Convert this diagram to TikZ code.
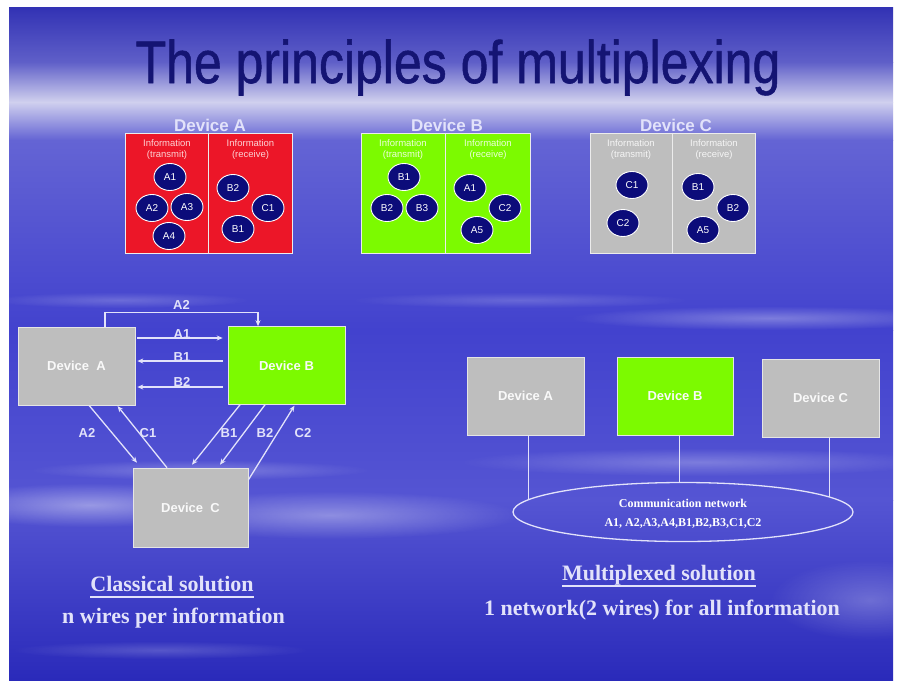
\documentclass[tikz,border=0pt]{standalone}
\usepackage{fontspec}
\setmainfont{Liberation Serif}
\newfontfamily\sansf{Liberation Sans}
\newfontfamily\titlef[FakeBold=1]{Liberation Sans}
\usetikzlibrary{arrows.meta,shapes.geometric,fadings}

\tikzfading[name=softglow, inner color=transparent!0, outer color=transparent!100]

\definecolor{bgA}{RGB}{50,50,180}
\definecolor{bgB}{RGB}{95,95,200}
\definecolor{bgC}{RGB}{208,208,238}
\definecolor{bgD}{RGB}{100,100,212}
\definecolor{bgE}{RGB}{66,66,206}
\definecolor{bgF}{RGB}{42,42,186}
\definecolor{titleblue}{RGB}{20,20,115}
\definecolor{lav}{RGB}{226,226,250}
\definecolor{devred}{RGB}{236,22,40}
\definecolor{devgreen}{RGB}{124,250,0}
\definecolor{devgrey}{RGB}{190,190,190}
\definecolor{dotnavy}{RGB}{12,12,122}

\tikzset{
  hdr/.style={font=\sansf\bfseries\fontsize{17}{20}\selectfont, text=lav, anchor=base},
  infobox/.style={draw=white!85!gray, line width=0.8pt, minimum width=167, minimum height=120, inner sep=0},
  infotxt/.style={font=\sansf\fontsize{9.5}{11}\selectfont, text=white, opacity=0.85, align=center, inner sep=0},
  dot/.style={ellipse, fill=dotnavy, draw=white, line width=0.9pt, minimum width=32, minimum height=27, inner sep=0,
    font=\sansf\fontsize{10}{12}\selectfont, text=white},
  devbox/.style={minimum width=117, minimum height=78, inner sep=0, draw=white!80!gray, line width=0.6pt,
    font=\sansf\bfseries\fontsize{13}{15}\selectfont, text=white!95!gray},
  wire/.style={draw=lav, line width=1.3pt},
  arr/.style={wire, -{Stealth[length=6pt,width=5pt]}},
  wlbl/.style={font=\sansf\bfseries\fontsize{13}{15}\selectfont, text=lav, inner sep=0},
  captxt/.style={font=\bfseries\fontsize{22}{26}\selectfont, text=lav, anchor=base, inner sep=0},
  ul/.style={draw=lav, line width=1.1pt},
  nettxt/.style={font=\bfseries\fontsize{12}{14}\selectfont, text=white, inner sep=0},
  haze/.style={fill=white, path fading=softglow}
}

\begin{document}
\begin{tikzpicture}[x=1pt,y=-1pt]
\useasboundingbox (0,0) rectangle (897,683);
\fill[white] (0,0) rectangle (897,683);

% sky background in horizontal bands
\shade[top color=bgA, bottom color=bgB] (9,7) rectangle (893,62);
\shade[top color=bgB, bottom color=bgC] (9,62) rectangle (893,102);
\shade[top color=bgC, bottom color=bgD] (9,102) rectangle (893,140);
\shade[top color=bgD, bottom color=bgE] (9,140) rectangle (893,330);
\shade[top color=bgE, bottom color=bgE!90!white] (9,330) rectangle (893,500);
\shade[top color=bgE!90!white, bottom color=bgF] (9,500) rectangle (893,680);

% soft cloud streaks
\begin{scope}
\clip (9,7) rectangle (893,680);
\fill[haze, opacity=0.40] (90,505) ellipse (150 and 22);
\fill[haze, opacity=0.35] (330,515) ellipse (190 and 24);
\fill[haze, opacity=0.25] (200,470) ellipse (170 and 10);
\fill[haze, opacity=0.30] (770,318) ellipse (200 and 12);
\fill[haze, opacity=0.25] (700,462) ellipse (240 and 14);
\fill[haze, opacity=0.25] (870,600) ellipse (100 and 40);
\fill[haze, opacity=0.18] (520,300) ellipse (170 and 8);
\fill[haze, opacity=0.18] (160,650) ellipse (150 and 9);
\fill[haze, opacity=0.20] (120,300) ellipse (130 and 8);
\end{scope}

% title
\node[anchor=base, inner sep=0, text=titleblue] (title) at (458,83)
  {\scalebox{1}[1.2]{\titlef\fontsize{50}{60}\selectfont The principles of multiplexing}};

% ---- information held by each device ----
\node[hdr] (hA) at (210,131) {Device A};
\node[hdr] (hB) at (447,131) {Device B};
\node[hdr] (hC) at (676,131) {Device C};

\node[infobox, fill=devred] (boxA) at (208.5,193) {};
\node[infobox, fill=devgreen, minimum width=169] (boxB) at (445.5,193) {};
\node[infobox, fill=devgrey, minimum width=165] (boxC) at (672.5,193) {};
\draw[white!85!gray, line width=1pt] (boxA.north) -- (boxA.south);
\draw[white!85!gray, line width=1pt] (boxB.north) -- (boxB.south);
\draw[white!85!gray, line width=1pt] (boxC.north) -- (boxC.south);

\node[infotxt, text=white!80!pink] (tA1) at (167,150) {Information\\(transmit)};
\node[infotxt, text=white!80!pink] (tA2) at (250.5,150) {Information\\(receive)};
\node[infotxt] (tB1) at (403,150) {Information\\(transmit)};
\node[infotxt] (tB2) at (488,150) {Information\\(receive)};
\node[infotxt] (tC1) at (631,150) {Information\\(transmit)};
\node[infotxt] (tC2) at (714,150) {Information\\(receive)};

\node[dot] (a1) at (170,177) {A1};
\node[dot] (a2) at (152,208) {A2};
\node[dot] (a3) at (187,207) {A3};
\node[dot] (a4) at (169,236) {A4};
\node[dot] (ab2) at (233,188) {B2};
\node[dot] (ac1) at (268,208) {C1};
\node[dot] (ab1) at (238,229) {B1};

\node[dot] (b1) at (404,177) {B1};
\node[dot] (b2) at (387,208) {B2};
\node[dot] (b3) at (422,208) {B3};
\node[dot] (ba1) at (470,188) {A1};
\node[dot] (bc2) at (505,208) {C2};
\node[dot] (ba5) at (477,230) {A5};

\node[dot] (c1) at (632,185) {C1};
\node[dot] (c2) at (623,223) {C2};
\node[dot] (cb1) at (698,187) {B1};
\node[dot] (cb2) at (733,208) {B2};
\node[dot] (ca5) at (703,230) {A5};

% ---- classical wiring ----
\node[devbox, fill=devgrey] (dA) at (76.5,366) {Device\ \ A};
\node[devbox, fill=devgreen] (dB) at (286.5,365.5) {Device B};
\node[devbox, fill=devgrey, minimum width=115, minimum height=79] (dC) at (190.5,507.5) {Device\ \ C};

\draw[arr] ([xshift=28.5pt]dA.north) -- ++(0,-14) -| ([xshift=-28.5pt]dB.north)
  node[wlbl, pos=0.25, above=3pt] {A2};
\draw[arr, shorten <=2pt, shorten >=5pt] ([yshift=28pt]dA.east) -- ([yshift=27.5pt]dB.west);
\node[wlbl] (lA1) at (182,334) {A1};
\draw[arr, shorten <=5pt, shorten >=2pt] ([yshift=4.5pt]dB.west) -- ([yshift=5pt]dA.east);
\node[wlbl] (lB1) at (182,357) {B1};
\draw[arr, shorten <=5pt, shorten >=2pt] ([yshift=-21.5pt]dB.west) -- ([yshift=-21pt]dA.east);
\node[wlbl] (lB2) at (182,382) {B2};

\draw[arr] ([xshift=12.5pt]dA.south) -- ([xshift=-53.5pt,yshift=5pt]dC.north);
\node[wlbl] (lA2b) at (87,433) {A2};
\draw[arr, shorten >=1pt] ([xshift=-23.5pt]dC.north) -- ([xshift=40.5pt]dA.south);
\node[wlbl] (lC1) at (148,433) {C1};
\draw[arr] ([xshift=-46.5pt]dB.south) -- ([xshift=1.5pt,yshift=3pt]dC.north);
\node[wlbl] (lB1b) at (229,433) {B1};
\draw[arr] ([xshift=-21.5pt]dB.south) -- ([xshift=29.5pt,yshift=3pt]dC.north);
\node[wlbl] (lB2b) at (265,433) {B2};
\draw[arr, shorten >=1pt] ([yshift=27.5pt]dC.east) -- ([xshift=8.5pt]dB.south);
\node[wlbl] (lC2) at (303,433) {C2};

\node[captxt] (cls) at (172,591) {Classical solution};
\draw[ul] ([yshift=-6pt]cls.base west) -- ([yshift=-6pt]cls.base east);
\node[captxt] (clsb) at (173.5,623) {n wires per information};

% ---- multiplexed network ----
\node[devbox, fill=devgrey] (mA) at (525.5,396) {Device A};
\node[devbox, fill=devgreen, minimum width=116] (mB) at (675,396) {Device B};
\node[devbox, fill=devgrey] (mC) at (820.5,398) {Device C};

\node[ellipse, draw=lav, line width=1.3pt, minimum width=340, minimum height=59, inner sep=0] (net) at (683,512) {};
\node[nettxt] (net1) at (683,503) {Communication network};
\node[nettxt] (net2) at (683,523) {A1, A2,A3,A4,B1,B2,B3,C1,C2};

\draw[wire, line width=1pt] ([xshift=2.5pt]mA.south) -- ([xshift=2.5pt]mA.south |- net.175.5);
\draw[wire, line width=1pt] ([xshift=4pt]mB.south) -- ([xshift=4pt]mB.south |- net.north);
\draw[wire, line width=1pt] ([xshift=8.5pt]mC.south) -- ([xshift=8.5pt]mC.south |- net.6);

\node[captxt] (mux) at (659,580) {Multiplexed solution};
\draw[ul] ([yshift=-6pt]mux.base west) -- ([yshift=-6pt]mux.base east);
\node[captxt] (muxb) at (662,615) {1 network(2 wires) for all information};
\end{tikzpicture}
\end{document}
